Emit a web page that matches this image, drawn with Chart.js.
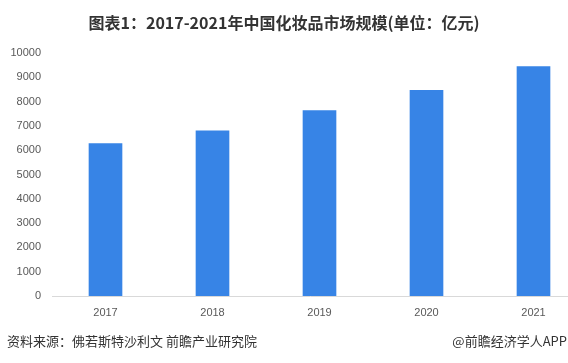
<!DOCTYPE html>
<html>
<head>
<meta charset="utf-8">
<script src="https://cdn.jsdelivr.net/npm/chart.js@4/dist/chart.umd.min.js"></script>
<style>
  html, body { margin: 0; padding: 0; background: #fff; overflow: hidden; }
  #wrap { position: relative; width: 568px; height: 363px; }
  #c { position: absolute; left: 0; top: 0; }
  .txt { position: absolute; font-family: "Noto Sans CJK SC", sans-serif; white-space: nowrap; }
  #title { left: 0; width: 568px; top: 10px; text-align: center; font-size: 16px; font-weight: bold; color: #333; line-height: 24px; }
  #src { left: 7px; top: 331px; font-size: 13px; color: #333; line-height: 20px; }
  #app { right: 1px; top: 331px; font-size: 13px; color: #333; line-height: 20px; }
</style>
</head>
<body>
<div id="wrap">
  <canvas id="c" width="568" height="363"></canvas>
  <div id="title" class="txt">图表1：2017-2021年中国化妆品市场规模(单位：亿元)</div>
  <div id="src" class="txt">资料来源：佛若斯特沙利文 前瞻产业研究院</div>
  <div id="app" class="txt">@前瞻经济学人APP</div>
</div>
<script>
const years = [2017, 2018, 2019, 2020, 2021];
const marketSize = [6270, 6800, 7630, 8460, 9440];
const yTicks = [0, 1000, 2000, 3000, 4000, 5000, 6000, 7000, 8000, 9000, 10000];

const points = years.map((y, i) => ({ x: y, y: marketSize[i] }));

new Chart(document.getElementById('c'), {
  type: 'bar',
  data: {
    datasets: [{
      data: points,
      backgroundColor: '#3784E6',
      barThickness: 33
    }]
  },
  options: {
    responsive: false,
    animation: false,
    layout: { padding: { top: 53, bottom: 47, left: 0, right: 0 } },
    plugins: { legend: { display: false }, title: { display: false }, tooltip: { enabled: false } },
    scales: {
      x: {
        type: 'linear',
        offset: false,
        min: 2016.5,
        max: 2016.5 + (568 - 52) / 107,
        grid: { display: false, drawTicks: false, offset: false },
        border: { display: true, color: '#d9d9d9', width: 1 },
        afterBuildTicks: s => { s.ticks = years.map(v => ({ value: v })); },
        afterFit: s => { s.height = 20; },
        ticks: {
          padding: 10,
          color: '#595959',
          font: { family: 'Liberation Sans', size: 11 },
          callback: v => String(v),
          maxRotation: 0,
          autoSkip: false
        }
      },
      y: {
        min: 0,
        max: 10000,
        grid: { display: false, drawTicks: false },
        border: { display: false },
        afterBuildTicks: s => { s.ticks = yTicks.map(v => ({ value: v })); },
        afterFit: s => { s.width = 52; },
        ticks: {
          padding: 11,
          color: '#595959',
          font: { family: 'Liberation Sans', size: 11 },
          callback: v => String(v)
        }
      }
    }
  }
});
</script>
</body>
</html>
